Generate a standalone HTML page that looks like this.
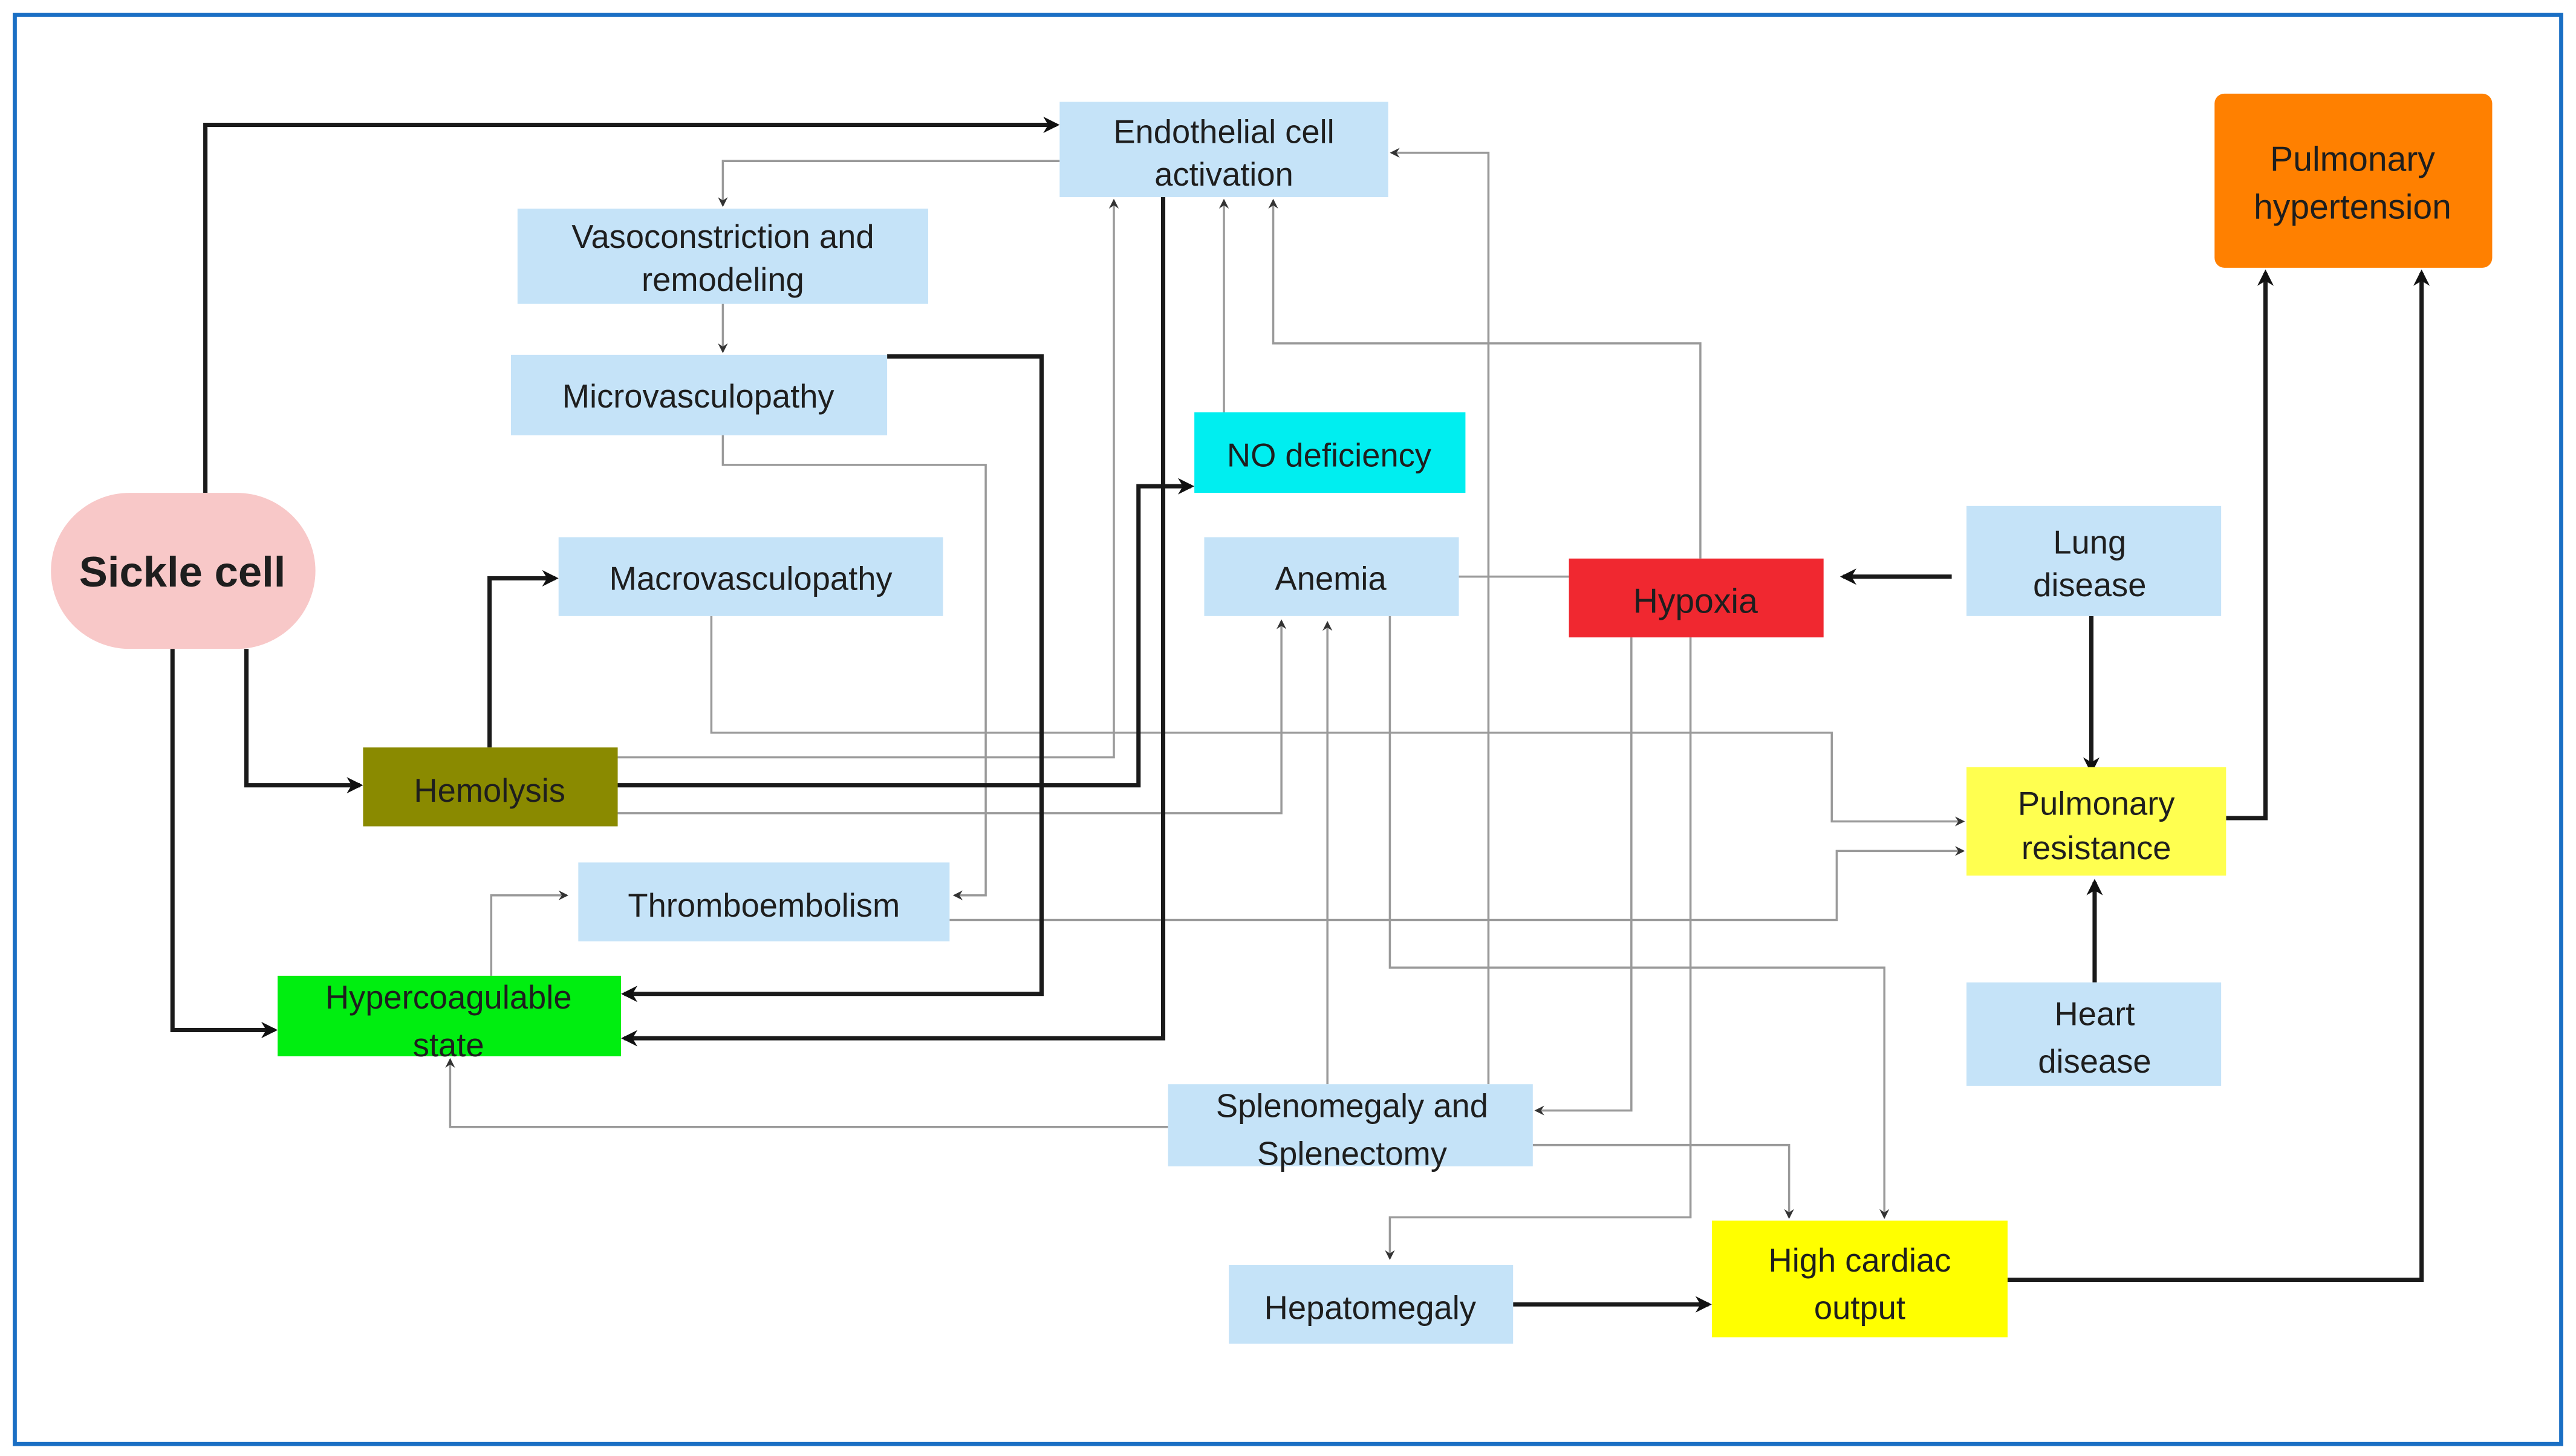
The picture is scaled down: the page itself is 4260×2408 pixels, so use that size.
<!DOCTYPE html>
<html><head><meta charset="utf-8"><style>
html,body{margin:0;padding:0;background:#fff;}
svg{display:block;}
text{font-family:"Liberation Sans",Arial,sans-serif;fill:#1e1e1e;text-anchor:middle;}
</style></head><body>
<svg width="4260" height="2408" viewBox="0 0 1568 886.3" preserveAspectRatio="none" xmlns="http://www.w3.org/2000/svg">
<defs>
<marker id="ab" markerWidth="10" markerHeight="10" refX="8" refY="5" orient="auto" markerUnits="userSpaceOnUse"><path d="M0,0 L10,5 L0,10 L3,5 z" fill="#111"/></marker>
<marker id="ag" markerWidth="6" markerHeight="6" refX="5" refY="3" orient="auto" markerUnits="userSpaceOnUse"><path d="M0,0 L6,3 L0,6 L2,3 z" fill="#333"/></marker>
</defs>
<rect x="0" y="0" width="1568" height="886.3" fill="#fff"/>
<rect x="9" y="9" width="1550" height="870" fill="none" stroke="#1a6fc4" stroke-width="2.5"/>

<!-- gray lines -->
<g fill="none" stroke="#9a9a9a" stroke-width="1.3" marker-end="url(#ag)">
<polyline points="645,98 440,98 440,125"/>
<polyline points="440,185 440,214"/>
<polyline points="440,265 440,283 600,283 600,545 581,545"/>
<polyline points="376,461 678,461 678,122"/>
<polyline points="376,495 780,495 780,378"/>
<polyline points="745,251 745,122"/>
<polyline points="433,375 433,446 1115,446 1115,500 1195,500"/>
<polyline points="578,560 1118,560 1118,518 1195,518"/>
<polyline points="299,594 299,545 345,545"/>
<polyline points="1035,340 1035,209 775,209 775,122"/>
<polyline points="906,660 906,93 847,93"/>
<polyline points="808,660 808,379"/>
<polyline points="846,375 846,589 1147,589 1147,741"/>
<polyline points="993,388 993,676 935,676"/>
<polyline points="1029,388 1029,741 846,741 846,766"/>
<polyline points="933,697 1089,697 1089,741"/>
<polyline points="711,686 274,686 274,645"/>
</g>
<line x1="888" y1="351" x2="955" y2="351" stroke="#9a9a9a" stroke-width="1.3"/>

<!-- black lines -->
<g fill="none" stroke="#1a1a1a" stroke-width="2.6" marker-end="url(#ab)">
<polyline points="125,300 125,76 643,76"/>
<polyline points="150,395 150,478 219,478"/>
<polyline points="105,395 105,627 167,627"/>
<polyline points="298,455 298,352 338,352"/>
<polyline points="376,478 693,478 693,296 725,296"/>
<polyline points="540,217 634,217 634,605 380,605"/>
<polyline points="708,120 708,632 380,632"/>
<polyline points="1188,351 1122,351"/>
<polyline points="1273,375 1273,469"/>
<polyline points="1275,598 1275,537"/>
<polyline points="1355,498 1379,498 1379,166"/>
<polyline points="1222,779 1474,779 1474,166"/>
<polyline points="921,794 1040,794"/>
</g>

<!-- boxes -->
<rect x="645" y="62" width="200" height="58" fill="#c5e3f8"/>
<text x="745" y="87" font-size="20">Endothelial cell</text><text x="745" y="113" font-size="20">activation</text>
<rect x="315" y="127" width="250" height="58" fill="#c5e3f8"/>
<text x="440" y="151" font-size="20">Vasoconstriction and</text><text x="440" y="177" font-size="20">remodeling</text>
<rect x="311" y="216" width="229" height="49" fill="#c5e3f8"/>
<text x="425" y="248" font-size="20">Microvasculopathy</text>
<rect x="727" y="251" width="165" height="49" fill="#00eef0"/>
<text x="809" y="284" font-size="20">NO deficiency</text>
<rect x="340" y="327" width="234" height="48" fill="#c5e3f8"/>
<text x="457" y="359" font-size="20">Macrovasculopathy</text>
<rect x="733" y="327" width="155" height="48" fill="#c5e3f8"/>
<text x="810" y="359" font-size="20">Anemia</text>
<rect x="955" y="340" width="155" height="48" fill="#f02830"/>
<text x="1032" y="373" font-size="21">Hypoxia</text>
<rect x="1197" y="308" width="155" height="67" fill="#c5e3f8"/>
<text x="1272" y="337" font-size="20">Lung</text><text x="1272" y="363" font-size="20">disease</text>
<rect x="31" y="300" width="161" height="95" rx="48" ry="48" fill="#f8c8c8"/>
<text x="111" y="357" font-size="26" font-weight="bold">Sickle cell</text>
<rect x="221" y="455" width="155" height="48" fill="#8a8a00"/>
<text x="298" y="488" font-size="20">Hemolysis</text>
<rect x="352" y="525" width="226" height="48" fill="#c5e3f8"/>
<text x="465" y="558" font-size="20">Thromboembolism</text>
<rect x="1197" y="467" width="158" height="66" fill="#ffff50"/>
<text x="1276" y="496" font-size="20">Pulmonary</text><text x="1276" y="523" font-size="20">resistance</text>
<rect x="169" y="594" width="209" height="49" fill="#00ee10"/>
<text x="273" y="614" font-size="20">Hypercoagulable</text><text x="273" y="643" font-size="20">state</text>
<rect x="1197" y="598" width="155" height="63" fill="#c5e3f8"/>
<text x="1275" y="624" font-size="20">Heart</text><text x="1275" y="653" font-size="20">disease</text>
<rect x="711" y="660" width="222" height="50" fill="#c5e3f8"/>
<text x="823" y="680" font-size="20">Splenomegaly and</text><text x="823" y="709" font-size="20">Splenectomy</text>
<rect x="748" y="770" width="173" height="48" fill="#c5e3f8"/>
<text x="834" y="803" font-size="20">Hepatomegaly</text>
<rect x="1042" y="743" width="180" height="71" fill="#ffff00"/>
<text x="1132" y="774" font-size="20">High cardiac</text><text x="1132" y="803" font-size="20">output</text>
<rect x="1348" y="57" width="169" height="106" rx="6" fill="#ff8000"/>
<text x="1432" y="104" font-size="21">Pulmonary</text><text x="1432" y="133" font-size="21">hypertension</text>
</svg>
</body></html>
